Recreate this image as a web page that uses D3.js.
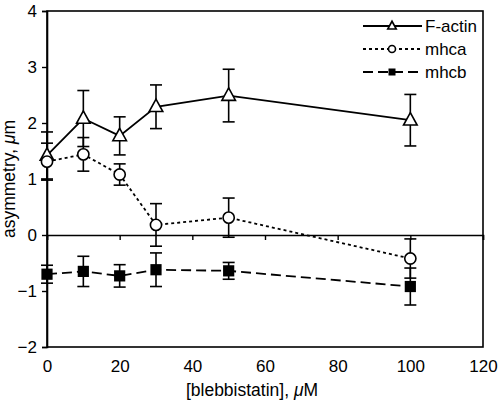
<!DOCTYPE html>
<html><head><meta charset="utf-8">
<script src="https://cdn.jsdelivr.net/npm/d3@7"></script>
<style>body{margin:0;background:#fff}svg{display:block}text{font-family:"Liberation Sans",Arial,sans-serif;fill:#000}</style>
</head><body><svg id="c" width="500" height="400"></svg>
<script>
const concentrations = [0, 10, 20, 30, 50, 100];
const seriesNames = ["F-actin", "mhca", "mhcb"];
const factin = [1.42, 2.08, 1.77, 2.29, 2.49, 2.05];
const factinErr = [0.42, 0.5, 0.34, 0.39, 0.47, 0.46];
const mhca = [1.31, 1.44, 1.08, 0.18, 0.31, -0.42];
const mhcaErr = [0.33, 0.3, 0.19, 0.38, 0.35, 0.35];
const mhcb = [-0.70, -0.65, -0.73, -0.62, -0.64, -0.92];
const mhcbErr = [0.16, 0.27, 0.2, 0.3, 0.15, 0.33];
const xTicks = [0, 20, 40, 60, 80, 100, 120];
const yTicks = [-2, -1, 0, 1, 2, 3, 4];

const svg = d3.select("#c");
const L = 47, R = 483, T = 11, B = 347;
const x = d3.scaleLinear().domain([0, 120]).range([L, R]);
const y = d3.scaleLinear().domain([-2, 4]).range([B, T]);

// frame
svg.append("rect").attr("x", L).attr("y", T).attr("width", R - L).attr("height", B - T)
  .attr("fill", "none").attr("stroke", "#000").attr("stroke-width", 1.6);

// y axis
const ya = svg.append("g").attr("transform", `translate(${L},0)`)
  .call(d3.axisLeft(y).tickValues(yTicks).tickSize(5).tickPadding(5).tickFormat(d3.format("d")));
ya.select(".domain").attr("stroke-width", 1.6);
ya.selectAll(".tick line").attr("stroke-width", 1.4);
ya.selectAll("text").style("font-size", "17px").attr("font-family", null);

// x axis at zero (ticks only), labels at bottom
const xa = svg.append("g").attr("transform", `translate(0,${y(0)})`)
  .call(d3.axisBottom(x).tickValues(xTicks).tickSize(5).tickFormat(""));
xa.select(".domain").attr("stroke-width", 1.5);
xa.selectAll(".tick line").attr("stroke-width", 1.4);
const xl = svg.append("g").attr("transform", `translate(0,${B})`)
  .call(d3.axisBottom(x).tickValues(xTicks).tickSize(0).tickPadding(13));
xl.select(".domain").remove();
xl.selectAll("text").style("font-size", "17px").attr("font-family", null);

// titles
const xt = svg.append("text").attr("x", 252).attr("y", 396).attr("text-anchor", "middle").style("font-size", "17.5px");
xt.append("tspan").text("[blebbistatin], ");
xt.append("tspan").attr("font-style", "italic").text("μ");
xt.append("tspan").text("M");
const yt = svg.append("text").attr("transform", `translate(15,${(T + B) / 2}) rotate(-90)`).attr("text-anchor", "middle").style("font-size", "17.5px");
yt.append("tspan").text("asymmetry, ");
yt.append("tspan").attr("font-style", "italic").text("μ");
yt.append("tspan").text("m");

const series = [
  {name: seriesNames[0], v: factin, e: factinErr, dash: null, sym: "tri"},
  {name: seriesNames[1], v: mhca, e: mhcaErr, dash: "3,3", sym: "circ"},
  {name: seriesNames[2], v: mhcb, e: mhcbErr, dash: "10,5", sym: "sq"}
];

function marker(g, sym, cx, cy, s) {
  if (sym === "tri") {
    g.append("path").attr("d", `M${cx},${cy - s * 0.95}L${cx + s * 0.85},${cy + s * 0.6}L${cx - s * 0.85},${cy + s * 0.6}Z`)
      .attr("fill", "#fff").attr("stroke", "#000").attr("stroke-width", 1.6);
  } else if (sym === "circ") {
    g.append("circle").attr("cx", cx).attr("cy", cy).attr("r", s * 0.7)
      .attr("fill", "#fff").attr("stroke", "#000").attr("stroke-width", 1.6);
  } else {
    g.append("rect").attr("x", cx - s * 0.7).attr("y", cy - s * 0.7).attr("width", s * 1.4).attr("height", s * 1.4).attr("fill", "#000");
  }
}

// error bars
series.forEach(s => {
  const g = svg.append("g").attr("stroke", "#000").attr("stroke-width", 1.6);
  concentrations.forEach((c, i) => {
    const cx = x(c), y1 = y(s.v[i] + s.e[i]), y2 = y(s.v[i] - s.e[i]);
    g.append("line").attr("x1", cx).attr("x2", cx).attr("y1", y1).attr("y2", y2);
    g.append("line").attr("x1", cx - 6).attr("x2", cx + 6).attr("y1", y1).attr("y2", y1);
    g.append("line").attr("x1", cx - 6).attr("x2", cx + 6).attr("y1", y2).attr("y2", y2);
  });
});
// lines
const line = d3.line().x((d, i) => x(concentrations[i])).y(d => y(d));
series.forEach(s => {
  svg.append("path").attr("d", line(s.v)).attr("fill", "none").attr("stroke", "#000")
    .attr("stroke-width", 1.8).attr("stroke-dasharray", s.dash);
});
// markers
series.forEach(s => {
  const g = svg.append("g");
  concentrations.forEach((c, i) => marker(g, s.sym, x(c), y(s.v[i]), 8));
});

// legend
series.forEach((s, i) => {
  const ly = 26 + i * 23;
  const g = svg.append("g");
  g.append("line").attr("x1", 363).attr("x2", 422).attr("y1", ly).attr("y2", ly)
    .attr("stroke", "#000").attr("stroke-width", 1.8).attr("stroke-dasharray", s.dash);
  marker(g, s.sym, 392, ly, 5);
  g.append("text").attr("x", 425).attr("y", ly + 6).style("font-size", "17px").text(s.name);
});
</script></body></html>
